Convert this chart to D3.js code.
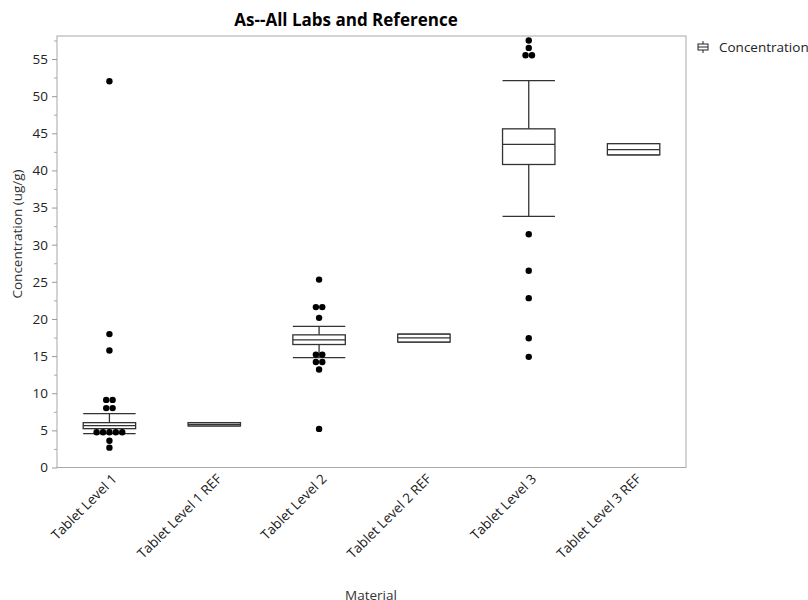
<!DOCTYPE html>
<html>
<head>
<meta charset="utf-8">
<script src="https://cdn.jsdelivr.net/npm/d3@7"></script>
<style>
body { margin: 0; background: #fff; }
svg { font-family: "Open Sans", "Noto Sans", sans-serif; }
.tick text { fill: #222; }
</style>
</head>
<body>
<div id="chart"></div>
<script>
// box plot summaries
var materials = ['Tablet Level 1', 'Tablet Level 1 REF', 'Tablet Level 2', 'Tablet Level 2 REF', 'Tablet Level 3', 'Tablet Level 3 REF'];
var whiskLow = [4.56, 5.6, 14.8, 16.9, 33.8, 42.1];
var q1 = [5.23, 5.6, 16.56, 16.9, 40.8, 42.1];
var median = [5.64, 5.8, 17.19, 17.45, 43.5, 42.8];
var q3 = [6.04, 6.04, 17.86, 17.95, 45.6, 43.6];
var whiskHigh = [7.25, 6.04, 19.0, 17.95, 52.1, 43.6];
var outliers = [
    [52.0, 17.96, 15.75, 9.1, 9.1, 8.0, 8.0, 4.74, 4.74, 4.74, 4.74, 4.74, 3.6, 2.67],
    [],
    [25.3, 21.6, 21.6, 20.15, 15.2, 15.2, 14.2, 14.2, 13.2, 5.2],
    [],
    [57.5, 56.5, 55.5, 55.5, 31.4, 26.5, 22.8, 17.4, 14.9],
    []
];
var yTicks = [0, 5, 10, 15, 20, 25, 30, 35, 40, 45, 50, 55];
var yMinor = [2.5, 7.5, 12.5, 17.5, 22.5, 27.5, 32.5, 37.5, 42.5, 47.5, 52.5, 57.5];

var width = 808, height = 600;
var pLeft = 57, pRight = 686, pTop = 36, pBottom = 467.5;
var font = '"Open Sans", "Noto Sans", sans-serif';
var fs = 13.5;

var svg = d3.select('#chart').append('svg').attr('width', width).attr('height', height);

var x = d3.scaleBand().domain(materials).range([pLeft, pRight]);
var y = d3.scaleLinear().domain([0, 58.1]).range([pBottom, pTop]);

// title
svg.append('text')
    .attr('x', 346).attr('y', 26)
    .attr('text-anchor', 'middle')
    .style('font-weight', 'bold').style('font-size', '17px')
    .text('As--All Labs and Reference');

// frame
svg.append('rect')
    .attr('x', pLeft).attr('y', pTop)
    .attr('width', pRight - pLeft).attr('height', pBottom - pTop)
    .attr('fill', 'none').attr('stroke', '#a8a8a8');

// y axis
var yAxis = svg.append('g').attr('transform', `translate(${pLeft},0)`)
    .call(d3.axisLeft(y).tickValues(yTicks).tickSize(5).tickPadding(4));
yAxis.attr('font-family', font).attr('font-size', fs);
yAxis.select('.domain').remove();
yAxis.selectAll('.tick line').attr('stroke', '#999');

var yMin = svg.append('g').attr('transform', `translate(${pLeft},0)`)
    .call(d3.axisLeft(y).tickValues(yMinor).tickSize(3).tickFormat(''));
yMin.select('.domain').remove();
yMin.selectAll('.tick line').attr('stroke', '#aaa');

svg.append('text')
    .attr('transform', 'translate(22,234) rotate(-90)')
    .attr('text-anchor', 'middle')
    .style('font-size', fs + 'px').attr('fill', '#333')
    .text('Concentration (ug/g)');

// x axis
var xAxis = svg.append('g').attr('transform', `translate(0,${pBottom})`)
    .call(d3.axisBottom(x).tickSize(0).tickPadding(0));
xAxis.attr('font-family', font).attr('font-size', fs);
xAxis.select('.domain').remove();
xAxis.selectAll('.tick text')
    .attr('text-anchor', 'end')
    .attr('transform', 'translate(5,9) rotate(-45)')
    .attr('dy', '0.35em').attr('y', 0);

svg.append('text')
    .attr('x', 371).attr('y', 600)
    .attr('text-anchor', 'middle')
    .style('font-size', fs + 'px').attr('fill', '#333')
    .text('Material');

// boxes
var bw = x.bandwidth() * 0.5;
var boxes = svg.append('g').selectAll('g').data(materials).enter().append('g')
    .attr('transform', d => `translate(${x(d) + x.bandwidth() / 2},0)`);

var stroke = '#333';
boxes.append('line')
    .attr('y1', (d, i) => y(whiskLow[i])).attr('y2', (d, i) => y(q1[i]))
    .attr('stroke', stroke).attr('stroke-width', 1.3);
boxes.append('line')
    .attr('y1', (d, i) => y(q3[i])).attr('y2', (d, i) => y(whiskHigh[i]))
    .attr('stroke', stroke).attr('stroke-width', 1.3);
boxes.append('line')
    .attr('x1', -bw / 2).attr('x2', bw / 2)
    .attr('y1', (d, i) => y(whiskLow[i])).attr('y2', (d, i) => y(whiskLow[i]))
    .attr('stroke', stroke).attr('stroke-width', 1.3);
boxes.append('line')
    .attr('x1', -bw / 2).attr('x2', bw / 2)
    .attr('y1', (d, i) => y(whiskHigh[i])).attr('y2', (d, i) => y(whiskHigh[i]))
    .attr('stroke', stroke).attr('stroke-width', 1.3);
boxes.append('rect')
    .attr('x', -bw / 2).attr('width', bw)
    .attr('y', (d, i) => y(q3[i])).attr('height', (d, i) => y(q1[i]) - y(q3[i]))
    .attr('fill', '#fff').attr('stroke', stroke).attr('stroke-width', 1.3);
boxes.append('line')
    .attr('x1', -bw / 2).attr('x2', bw / 2)
    .attr('y1', (d, i) => y(median[i])).attr('y2', (d, i) => y(median[i]))
    .attr('stroke', stroke).attr('stroke-width', 1.3);

// outlier dots, repeated values spread side by side
var gap = 6.4;
boxes.each(function (d, i) {
    var counts = d3.rollup(outliers[i], v => v.length, v => v);
    var seen = new Map();
    var pts = outliers[i].map(v => {
        var k = seen.get(v) || 0;
        seen.set(v, k + 1);
        return {v: v, off: (k - (counts.get(v) - 1) / 2) * gap};
    });
    d3.select(this).selectAll('circle').data(pts).enter().append('circle')
        .attr('cx', p => p.off).attr('cy', p => y(p.v))
        .attr('r', 3.2).attr('fill', '#000');
});

// legend
var lg = svg.append('g').attr('transform', 'translate(703,47)');
lg.append('line').attr('x1', 0).attr('x2', 0).attr('y1', -6).attr('y2', 6).attr('stroke', '#222');
lg.append('rect').attr('x', -5).attr('y', -3).attr('width', 10).attr('height', 6)
    .attr('fill', '#fff').attr('stroke', '#222');
lg.append('line').attr('x1', -5).attr('x2', 5).attr('y1', 0).attr('y2', 0).attr('stroke', '#222');
lg.append('text').attr('x', 16).attr('y', 5)
    .style('font-size', fs + 'px').attr('fill', '#222')
    .text('Concentration');
</script>
</body>
</html>
